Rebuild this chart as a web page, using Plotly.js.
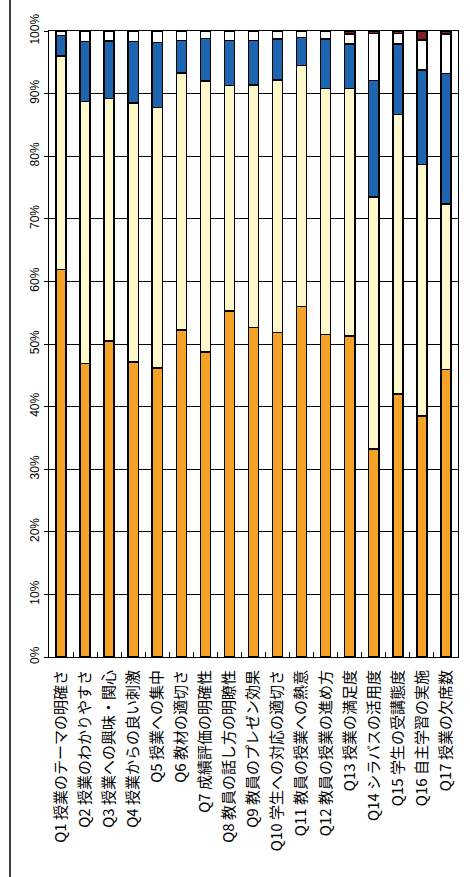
<!DOCTYPE html>
<html>
<head>
<meta charset="utf-8">
<script src="https://cdn.plot.ly/plotly-3.0.1.min.js"></script>
<style>
html,body{margin:0;padding:0;background:#fff;}
#chart{width:470px;height:877px;}
</style>
</head>
<body>
<div id="chart"></div>
<script>
const categories = [
  "Q1 授業のテーマの明確さ",
  "Q2 授業のわかりやすさ",
  "Q3 授業への興味・関心",
  "Q4 授業からの良い刺激",
  "Q5 授業への集中",
  "Q6 教材の適切さ",
  "Q7 成績評価の明確性",
  "Q8 教員の話し方の明瞭性",
  "Q9 教員のプレゼン効果",
  "Q10 学生への対応の適切さ",
  "Q11 教員の授業への熱意",
  "Q12 教員の授業の進め方",
  "Q13 授業の満足度",
  "Q14 シラバスの活用度",
  "Q15 学生の受講態度",
  "Q16 自主学習の実施",
  "Q17 授業の欠席数"
];
const seriesA = [61.9, 46.9, 50.5, 47.1, 46.2, 52.2, 48.7, 55.3, 52.6, 51.8, 56.0, 51.5, 51.3, 33.2, 42.0, 38.5, 45.9];
const seriesB = [34.1, 41.8, 38.7, 41.4, 41.6, 41.1, 43.3, 36.0, 38.8, 40.4, 38.5, 39.3, 39.5, 40.3, 44.7, 40.2, 26.5];
const seriesC = [3.3, 9.6, 9.2, 9.8, 10.4, 5.2, 6.8, 7.2, 7.1, 6.5, 4.5, 7.9, 7.1, 18.6, 11.2, 15.1, 20.8];
const seriesD = [0.7, 1.7, 1.6, 1.7, 1.8, 1.5, 1.2, 1.5, 1.5, 1.3, 1.0, 1.3, 1.6, 7.5, 1.7, 4.8, 6.3];
const seriesE = [0, 0, 0, 0, 0, 0, 0, 0, 0, 0, 0, 0, 0.5, 0.4, 0.4, 1.4, 0.5];
const yTicks = [0, 10, 20, 30, 40, 50, 60, 70, 80, 90, 100];
const yTickText = yTicks.map(v => v + "%");

const colors = ["#F5A327", "#FFF9CC", "#1E65B0", "#FFFFFF", "#7E1F28"];
const series = [seriesA, seriesB, seriesC, seriesD, seriesE];
const traces = series.map((vals, i) => ({
  type: "bar",
  x: categories,
  y: vals,
  marker: {color: colors[i], line: {color: "#000", width: 1.5}},
  showlegend: false,
  hoverinfo: "x+y"
}));

const layout = {
  width: 470,
  height: 877,
  barmode: "stack",
  bargap: 0.58,
  margin: {l: 49, r: 12, t: 31, b: 220, pad: 0},
  paper_bgcolor: "#fff",
  plot_bgcolor: "#fff",
  showlegend: false,
  xaxis: {
    type: "category",
    tickangle: -90,
    tickfont: {family: "Noto Sans CJK JP, sans-serif", size: 15, color: "#000"},
    ticklabelstandoff: 6,
    showline: true, mirror: true, linecolor: "#000", linewidth: 1,
    ticks: "inside", tickson: "boundaries", ticklen: 5, tickcolor: "#000",
    showgrid: false,
    fixedrange: true
  },
  yaxis: {
    range: [0, 100],
    tickvals: yTicks,
    ticktext: yTickText,
    tickangle: -90,
    tickfont: {family: "Liberation Sans, Arial, sans-serif", size: 12, color: "#000"},
    showline: true, mirror: true, linecolor: "#000", linewidth: 1,
    ticks: "outside", ticklen: 4, tickcolor: "#000",
    showgrid: true, gridcolor: "#000", gridwidth: 1,
    zeroline: false,
    fixedrange: true
  },
  shapes: [{
    type: "line", xref: "paper", yref: "paper",
    x0: -39/409, x1: -39/409, y0: -220/626, y1: 1 + 31/626,
    line: {color: "#000", width: 1.5}
  }]
};

Plotly.newPlot("chart", traces, layout, {staticPlot: true, displayModeBar: false});
</script>
</body>
</html>
